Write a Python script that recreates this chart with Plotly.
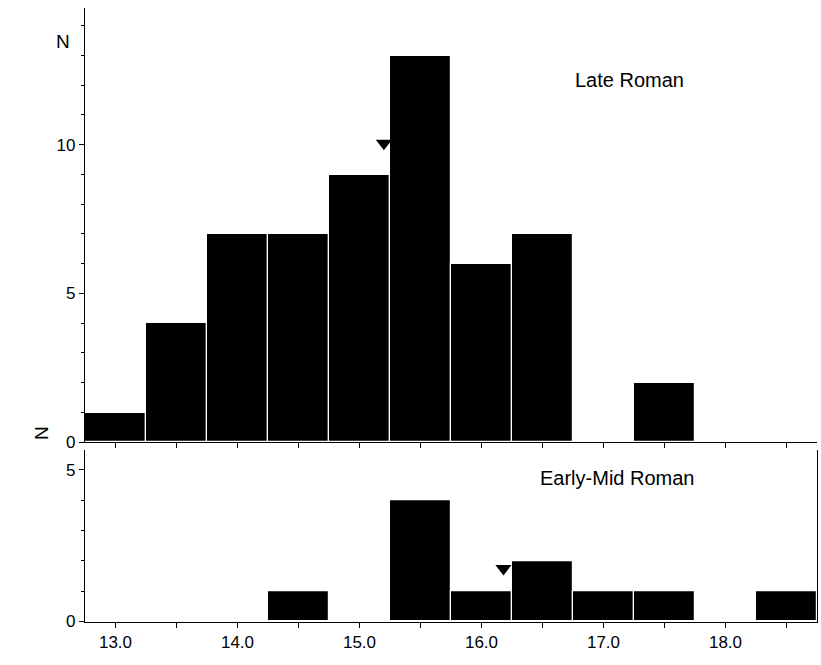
import plotly.graph_objects as go

bin_centers = [13.0, 13.5, 14.0, 14.5, 15.0, 15.5, 16.0, 16.5, 17.0, 17.5, 18.0, 18.5]
late_counts = [1, 4, 7, 7, 9, 13, 6, 7, 0, 2, 0, 0]
early_counts = [0, 0, 0, 1, 0, 4, 1, 2, 1, 1, 0, 1]
late_mean = (15.2, 10.05)
early_mean = (16.18, 1.75)
x_tick_vals = [13.0, 14.0, 15.0, 16.0, 17.0, 18.0]
x_tick_text = ["13.0", "14.0", "15.0", "16.0", "17.0", "18.0"]

W, H = 821, 665
FONT = "Liberation Sans, Arial, sans-serif"

fig = go.Figure()
fig.add_trace(go.Bar(x=bin_centers, y=late_counts, width=0.5, xaxis="x", yaxis="y",
                     marker=dict(color="black", line=dict(color="white", width=1.2)),
                     showlegend=False))
fig.add_trace(go.Bar(x=bin_centers, y=early_counts, width=0.5, xaxis="x2", yaxis="y2",
                     marker=dict(color="black", line=dict(color="white", width=1.2)),
                     showlegend=False))
fig.add_trace(go.Scatter(x=[late_mean[0]], y=[late_mean[1]], mode="markers", xaxis="x", yaxis="y",
                         marker=dict(symbol="triangle-down", size=14, color="black"), showlegend=False))
fig.add_trace(go.Scatter(x=[early_mean[0]], y=[early_mean[1]], mode="markers", xaxis="x2", yaxis="y2",
                         marker=dict(symbol="triangle-down", size=14, color="black"), showlegend=False))

xdom = [85 / W, 817 / W]
top_dom = [1 - 449 / H, 1 - 8 / H]
bot_dom = [1 - 631 / H, 1 - 457 / H]
xrange_ = [12.75, 18.75]

axis_common = dict(showgrid=False, zeroline=False, showline=True, linecolor="black", linewidth=1.2,
                   ticks="outside", tickcolor="black", tickfont=dict(family=FONT, size=17, color="black"))

fig.update_layout(
    width=W, height=H,
    margin=dict(l=0, r=0, t=0, b=0),
    paper_bgcolor="white", plot_bgcolor="white",
    bargap=0,
    xaxis=dict(domain=xdom, range=xrange_, anchor="y", tick0=13.0, dtick=0.5, ticklen=5,
               showticklabels=False, **axis_common),
    yaxis=dict(domain=top_dom, range=[0, 14.6], anchor="x", tickvals=[0, 5, 10], ticklen=5,
               minor=dict(dtick=1, ticks="outside", ticklen=3, tickcolor="black"), **axis_common),
    xaxis2=dict(domain=xdom, range=xrange_, anchor="y2", tickvals=x_tick_vals, ticktext=x_tick_text,
                ticklen=5, minor=dict(dtick=0.5, ticks="outside", ticklen=5, tickcolor="black"),
                **axis_common),
    yaxis2=dict(domain=bot_dom, range=[0, 5.65], anchor="x2", tickvals=[0, 5], ticklen=5, mirror=True,
                minor=dict(dtick=1, ticks="outside", ticklen=3, tickcolor="black"), **axis_common),
    annotations=[
        dict(text="N", x=54 / W, y=1 - 29 / H, xref="paper", yref="paper", showarrow=False,
             font=dict(family=FONT, size=19, color="black")),
        dict(text="N", x=29 / W, y=1 - 440 / H, xref="paper", yref="paper", showarrow=False,
             textangle=-90, font=dict(family=FONT, size=19, color="black")),
        dict(text="Late Roman", x=686 / W, y=1 - 68 / H, xref="paper", yref="paper", showarrow=False,
             font=dict(family=FONT, size=20, color="black")),
        dict(text="Early-Mid Roman", x=696 / W, y=1 - 498 / H, xref="paper", yref="paper", showarrow=False,
             font=dict(family=FONT, size=20, color="black")),
    ],
)

fig.write_html("out.html", config={"displayModeBar": False},
               post_script="document.body.style.margin='0';document.body.style.overflow='hidden';")
